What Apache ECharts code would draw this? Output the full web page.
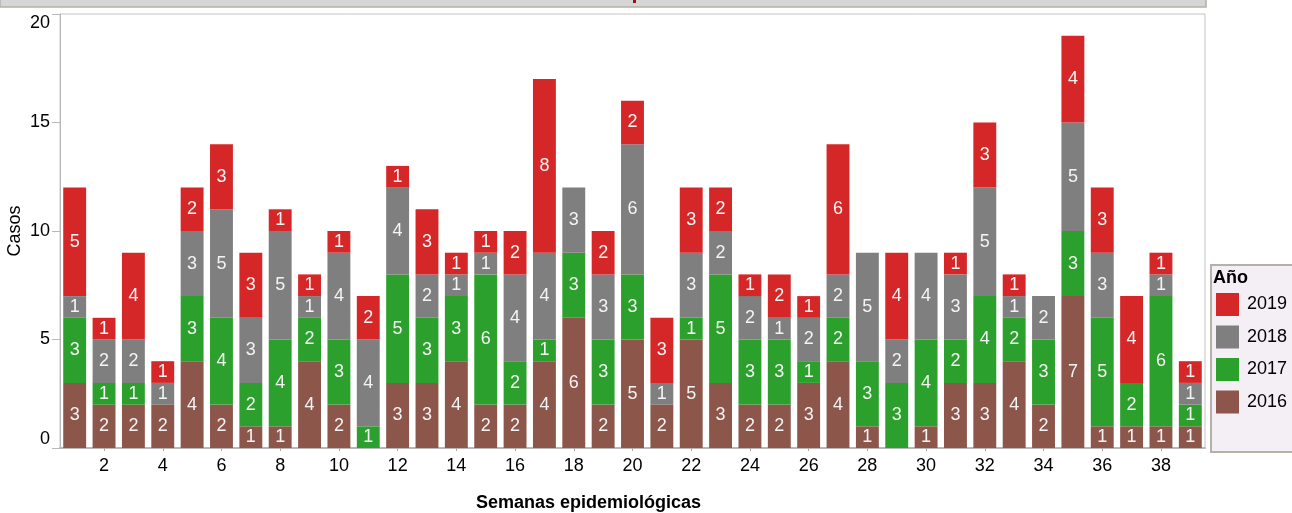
<!DOCTYPE html>
<html>
<head>
<meta charset="utf-8">
<script src="https://cdn.jsdelivr.net/npm/echarts@6/dist/echarts.min.js"></script>
<style>
html,body{margin:0;padding:0;background:#fff;}
#chart{width:1292px;height:513px;}
</style>
</head>
<body>
<div id="chart"></div>
<script>
const weeks = ['1','2','3','4','5','6','7','8','9','10','11','12','13','14','15','16','17','18','19','20','21','22','23','24','25','26','27','28','29','30','31','32','33','34','35','36','37','38','39'];
const y2016 = [3,2,2,2,4,2,1,1,4,2,0,3,3,4,2,2,4,6,2,5,2,5,3,2,2,3,4,1,0,1,3,3,4,2,7,1,1,1,1];
const y2017 = [3,1,1,0,3,4,2,4,2,3,1,5,3,3,6,2,1,3,3,3,0,1,5,3,3,1,2,3,3,4,2,4,2,3,3,5,2,6,1];
const y2018 = [1,2,2,1,3,5,3,5,1,4,4,4,2,1,1,4,4,3,3,6,1,3,2,2,1,2,2,5,2,4,3,5,1,2,5,3,0,1,1];
const y2019 = [5,1,4,1,2,3,3,1,1,1,2,1,3,1,1,2,8,0,2,2,3,3,2,1,2,1,6,0,4,0,1,3,1,0,4,3,4,1,1];
const seriesNames = ['2016','2017','2018','2019'];
const seriesColors = ['#8c564b','#2ca02c','#7f7f7f','#d62728'];
const yTicks = [0,5,10,15,20];

const FONT = 'Liberation Sans, Arial, sans-serif';
const FS = 18;
const chart = echarts.init(document.getElementById('chart'), null, {renderer:'canvas'});

function mk(name, data, color){
  return {
    name: name, type: 'bar', stack: 'total', data: data,
    itemStyle: {color: color},
    barCategoryGap: '22%',
    label: {
      show: true, position: 'inside', color: '#f4f4f4',
      fontFamily: FONT, fontSize: FS,
      formatter: p => (p.value > 0 ? String(p.value) : '')
    },
    emphasis: {disabled: true}
  };
}

const series = [
  mk(seriesNames[0], y2016, seriesColors[0]),
  mk(seriesNames[1], y2017, seriesColors[1]),
  mk(seriesNames[2], y2018, seriesColors[2]),
  mk(seriesNames[3], y2019, seriesColors[3])
];

chart.setOption({
  animation: false,
  backgroundColor: '#ffffff',
  grid: {left: 60, right: 87, top: 14, bottom: 65, containLabel: false, outerBoundsMode: 'none', show: true, borderColor: '#c4c4c4', borderWidth: 1, backgroundColor: 'transparent'},
  xAxis: {
    type: 'category', data: weeks,
    axisLine: {show: true, lineStyle: {color: '#b8b8b8', width: 2}},
    axisTick: {show: true, alignWithLabel: true, length: 3, interval: i => i % 2 === 1, lineStyle: {color: '#aaaaaa'}},
    axisLabel: {interval: i => i % 2 === 1, color: '#000', fontFamily: FONT, fontSize: FS, margin: 9}
  },
  yAxis: {
    type: 'value', min: yTicks[0], max: yTicks[yTicks.length-1], interval: 5,
    axisLine: {show: true, lineStyle: {color: '#b8b8b8', width: 1}},
    axisTick: {show: true, length: 8, lineStyle: {color: '#b8b8b8'}},
    splitLine: {show: false},
    axisLabel: {color: '#000', fontFamily: FONT, fontSize: FS, margin: 10,
      verticalAlignMaxLabel: 'top', verticalAlignMinLabel: 'bottom'}
  },
  legend: {
    orient: 'vertical', left: 1216, top: 293,
    data: ['2019','2018','2017','2016'],
    icon: 'rect', itemWidth: 23, itemHeight: 23, itemGap: 9.5, padding: 0,
    textStyle: {color: '#000', fontFamily: FONT, fontSize: FS, padding: [0,0,0,3]},
    selectedMode: false
  },
  graphic: [
    {type: 'rect', shape: {x: 0, y: -2, width: 1206, height: 9}, style: {fill: '#d6d6d6', stroke: '#b5b1a8', lineWidth: 1.5}, z: 10},
    {type: 'rect', shape: {x: 633, y: 0, width: 3, height: 3}, style: {fill: '#a01010'}, z: 11},
    {type: 'rect', shape: {x: 1211, y: 265, width: 100, height: 187}, style: {fill: '#f3eff5', stroke: '#b5b1a8', lineWidth: 2}, z: -1},
    {type: 'text', left: 1213, top: 269, style: {text: 'Año', fill: '#000', font: 'bold 18px Liberation Sans, Arial, sans-serif'}},
    {type: 'text', x: 15, y: 231, rotation: Math.PI / 2, style: {text: 'Casos', fill: '#000', font: '18px Liberation Sans, Arial, sans-serif', align: 'center', verticalAlign: 'middle'}},
    {type: 'text', left: 476, top: 494, style: {text: 'Semanas epidemiológicas', fill: '#000', font: 'bold 18px Liberation Sans, Arial, sans-serif'}}
  ],
  series: series
});
</script>
</body>
</html>
